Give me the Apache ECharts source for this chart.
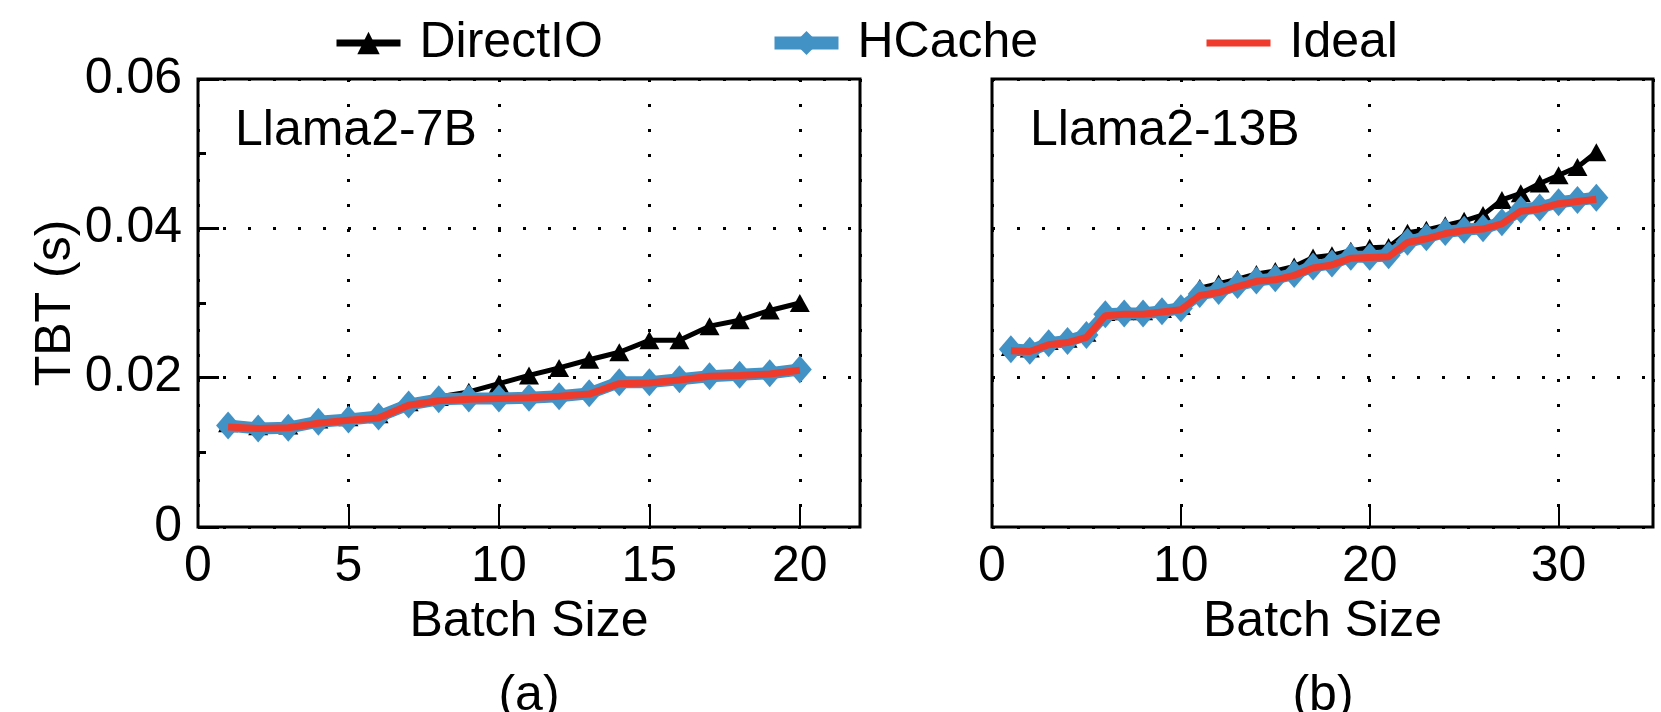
<!DOCTYPE html>
<html>
<head>
<meta charset="utf-8">
<script src="https://cdn.jsdelivr.net/npm/echarts@6.0.0/dist/echarts.min.js"></script>
<style>
  html, body { margin: 0; padding: 0; background: #fff; }
  #chart { width: 1661px; height: 712px; }
</style>
</head>
<body>
<div id="chart"></div>
<script>
// batch sizes
var batch7b = [1, 2, 3, 4, 5, 6, 7, 8, 9, 10, 11, 12, 13, 14, 15, 16, 17, 18, 19, 20];
var batch13b = [1, 2, 3, 4, 5, 6, 7, 8, 9, 10, 11, 12, 13, 14, 15, 16,
  17, 18, 19, 20, 21, 22, 23, 24, 25, 26, 27, 28, 29, 30, 31, 32];

// TBT (s), Llama2-7B
var directio7b = [0.0139, 0.0135, 0.0136, 0.0144, 0.0147, 0.0151, 0.0167, 0.0174, 0.0181, 0.0192,
  0.0203, 0.0213, 0.0224, 0.0234, 0.0250, 0.0250, 0.0269, 0.0277, 0.0290, 0.0300];
var hcache7b = [0.0136, 0.0132, 0.0133, 0.0141, 0.0144, 0.0148, 0.0164, 0.0171, 0.0172, 0.0172,
  0.0173, 0.0175, 0.0179, 0.0194, 0.0194, 0.0198, 0.0202, 0.0204, 0.0206, 0.0211];
var ideal7b = [0.0134, 0.0132, 0.0133, 0.0139, 0.0143, 0.0146, 0.0163, 0.0169, 0.0171, 0.0172,
  0.0173, 0.0175, 0.0178, 0.0192, 0.0193, 0.0197, 0.0202, 0.0203, 0.0205, 0.0210];

// TBT (s), Llama2-13B
var directio13b = [0.0241, 0.0239, 0.0249, 0.0252, 0.0260, 0.0288, 0.0289, 0.0289, 0.0292, 0.0296,
  0.0320, 0.0326, 0.0332, 0.0339, 0.0343, 0.0349, 0.0361, 0.0364, 0.0370, 0.0374,
  0.0375, 0.0394, 0.0398, 0.0404, 0.0410, 0.0418, 0.0438, 0.0447, 0.0460, 0.0471, 0.0482, 0.0502];
var hcache13b = [0.0238, 0.0236, 0.0246, 0.0249, 0.0257, 0.0285, 0.0286, 0.0286, 0.0289, 0.0293,
  0.0312, 0.0316, 0.0324, 0.0330, 0.0333, 0.0339, 0.0349, 0.0353, 0.0362, 0.0362,
  0.0364, 0.0382, 0.0388, 0.0395, 0.0398, 0.0400, 0.0408, 0.0425, 0.0428, 0.0435, 0.0438, 0.0441];
var ideal13b = [0.0236, 0.0235, 0.0244, 0.0247, 0.0254, 0.0283, 0.0285, 0.0285, 0.0288, 0.0291,
  0.0310, 0.0314, 0.0322, 0.0329, 0.0331, 0.0337, 0.0347, 0.0351, 0.0360, 0.0361,
  0.0362, 0.0381, 0.0386, 0.0393, 0.0397, 0.0399, 0.0406, 0.0423, 0.0426, 0.0433, 0.0436, 0.0439];

var FONT = 'Liberation Sans, Arial, Helvetica, sans-serif';
var BLUE = '#4292c6';
var RED = '#ef3b2c';

function pairs(xs, ys) {
  return xs.map(function (x, i) { return [x, ys[i]]; });
}

var chart = echarts.init(document.getElementById('chart'));

var dotted = { color: '#000', width: 3, type: [3, 22] };

function xAxisFor(idx, max, interval) {
  return {
    type: 'value',
    gridIndex: idx,
    min: 0,
    max: max,
    interval: interval,
    name: 'Batch Size',
    nameLocation: 'middle',
    nameGap: 70,
    nameTextStyle: { color: '#000', fontSize: 50, fontFamily: FONT },
    axisLine: { show: false },
    axisTick: { show: true, inside: true, length: 21, lineStyle: { color: '#000', width: 2 } },
    axisLabel: { color: '#000', fontSize: 50, fontFamily: FONT, margin: 15, showMaxLabel: false },
    splitLine: { show: true, lineStyle: dotted }
  };
}

function yAxisFor(idx, withLabels) {
  return {
    type: 'value',
    gridIndex: idx,
    min: 0,
    max: 0.06,
    interval: 0.02,
    name: withLabels ? 'TBT (s)' : '',
    nameLocation: 'middle',
    nameGap: 116,
    nameTextStyle: { color: '#000', fontSize: 50, fontFamily: FONT },
    axisLine: { show: false },
    axisTick: { show: withLabels, inside: true, length: 21, lineStyle: { color: '#000', width: 3 } },
    minorTick: { show: withLabels, splitNumber: 2, length: 8, lineStyle: { color: '#000', width: 3 } },
    axisLabel: { show: withLabels, color: '#000', fontSize: 50, fontFamily: FONT, margin: 16 },
    splitLine: { show: true, lineStyle: dotted }
  };
}

function seriesFor(idx, xs, dio, hc, ideal) {
  return [
    {
      name: 'DirectIO', type: 'line', xAxisIndex: idx, yAxisIndex: idx,
      data: pairs(xs, dio), z: 2,
      symbol: 'triangle', symbolSize: [20, 18], showSymbol: true,
      lineStyle: { color: '#000', width: 5 }, itemStyle: { color: '#000' },
      emphasis: { disabled: true }
    },
    {
      name: 'HCache', type: 'line', xAxisIndex: idx, yAxisIndex: idx,
      data: pairs(xs, hc), z: 3,
      symbol: 'diamond', symbolSize: [24, 28], showSymbol: true,
      lineStyle: { color: BLUE, width: 12 }, itemStyle: { color: BLUE },
      emphasis: { disabled: true }
    },
    {
      name: 'Ideal', type: 'line', xAxisIndex: idx, yAxisIndex: idx,
      data: pairs(xs, ideal), z: 4,
      symbol: 'none',
      lineStyle: { color: RED, width: 7 }, itemStyle: { color: RED },
      emphasis: { disabled: true }
    }
  ];
}

function legendFor(name, left, itemHeight, lineWidth, hideSymbol) {
  var lg = {
    data: [name],
    left: left,
    top: 18,
    padding: 0,
    itemWidth: 64,
    itemHeight: itemHeight,
    selectedMode: false,
    lineStyle: { width: lineWidth },
    textStyle: { color: '#000', fontSize: 50, fontFamily: FONT, padding: [0, 0, 0, 14] }
  };
  if (hideSymbol) {
    lg.itemStyle = { opacity: 0 };
  }
  return lg;
}

var gridStyle = {
  show: true, borderColor: '#000', borderWidth: 3, backgroundColor: 'transparent',
  outerBoundsMode: 'none', containLabel: false
};

var option = {
  animation: false,
  backgroundColor: '#fff',
  textStyle: { fontFamily: FONT },
  legend: [
    legendFor('DirectIO', 333, 28, 7, false),
    legendFor('HCache', 768, 30, 13, false),
    legendFor('Ideal', 1203, 24, 7, true)
  ],
  grid: [
    Object.assign({ left: 198, top: 79, width: 662, height: 448 }, gridStyle),
    Object.assign({ left: 992, top: 79, width: 661, height: 448 }, gridStyle)
  ],
  xAxis: [xAxisFor(0, 22, 5), xAxisFor(1, 35, 10)],
  yAxis: [yAxisFor(0, true), yAxisFor(1, false)],
  series: seriesFor(0, batch7b, directio7b, hcache7b, ideal7b)
    .concat(seriesFor(1, batch13b, directio13b, hcache13b, ideal13b)),
  graphic: [
    { type: 'text', x: 235, y: 131, style: { text: 'Llama2-7B', fontSize: 50, fontFamily: FONT, fill: '#000', align: 'left', verticalAlign: 'middle' } },
    { type: 'text', x: 1030, y: 131, style: { text: 'Llama2-13B', fontSize: 50, fontFamily: FONT, fill: '#000', align: 'left', verticalAlign: 'middle' } },
    { type: 'text', x: 529, y: 696, style: { text: '(a)', fontSize: 50, fontFamily: FONT, fill: '#000', align: 'center', verticalAlign: 'middle' } },
    { type: 'text', x: 1323, y: 696, style: { text: '(b)', fontSize: 50, fontFamily: FONT, fill: '#000', align: 'center', verticalAlign: 'middle' } }
  ]
};

chart.setOption(option);
</script>
</body>
</html>
